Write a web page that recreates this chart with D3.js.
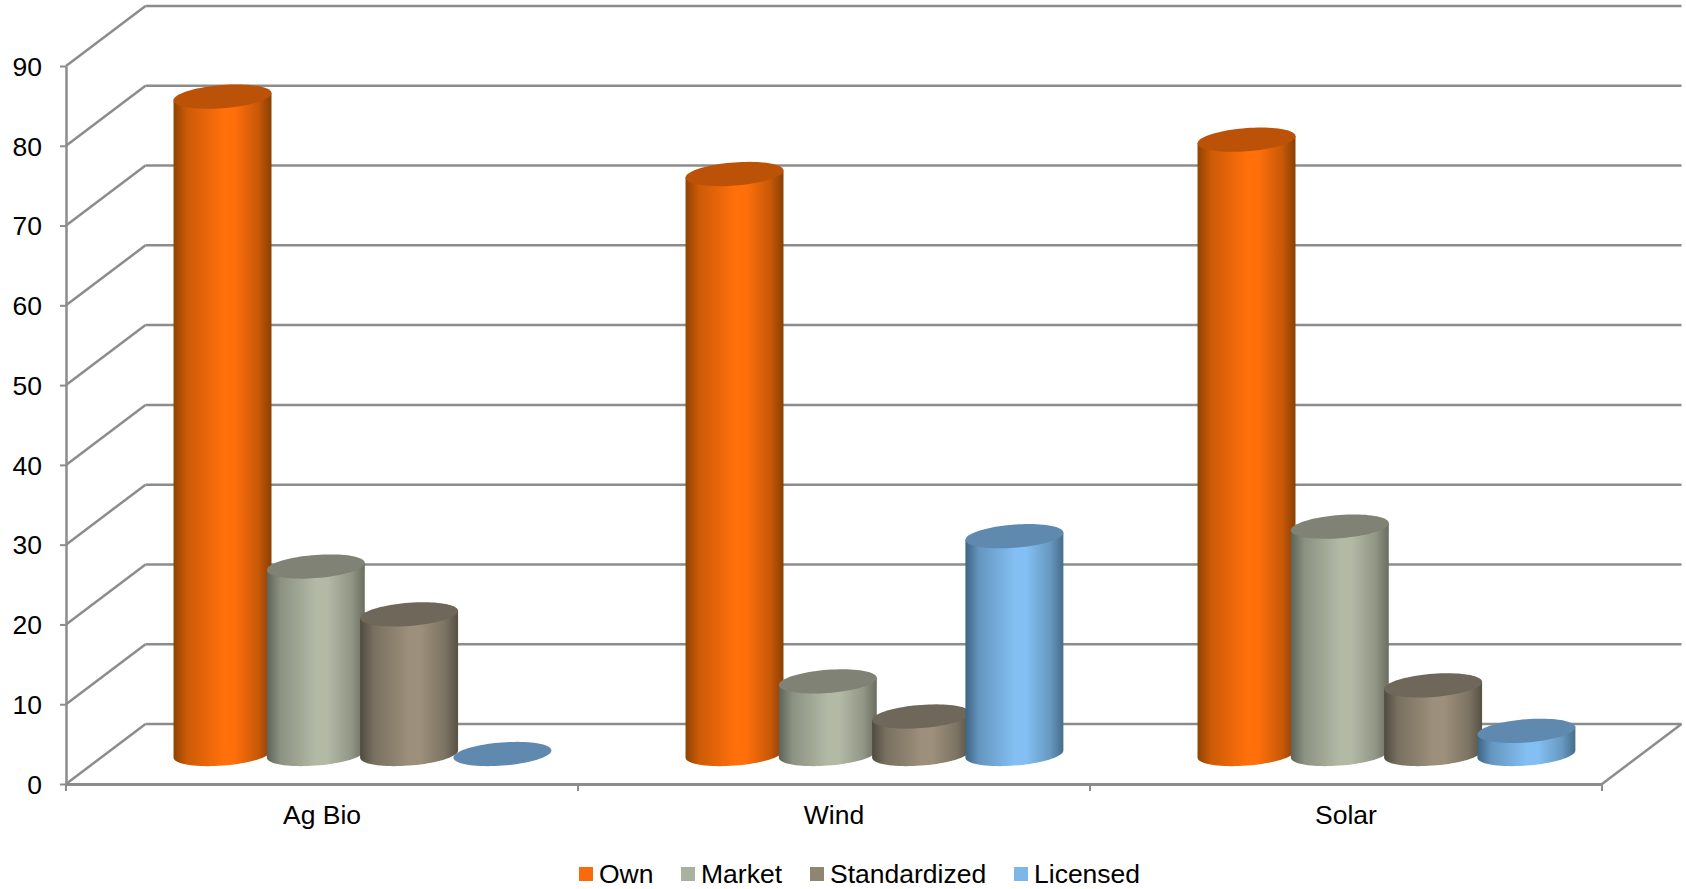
<!DOCTYPE html>
<html>
<head>
<meta charset="utf-8">
<script src="https://cdn.jsdelivr.net/npm/d3@7"></script>
<style>
html,body{margin:0;padding:0;background:#fff;overflow:hidden}
svg{display:block}
text{font-family:"Liberation Sans",Arial,sans-serif;fill:#000}
</style>
</head>
<body>
<svg id="chart" width="1686" height="889"></svg>
<script>
const categories = ["Ag Bio", "Wind", "Solar"];
const seriesNames = ["Own", "Market", "Standardized", "Licensed"];
const own = [82.4, 72.7, 77.0];
const market = [23.5, 9.1, 28.5];
const standardized = [17.5, 4.7, 8.6];
const licensed = [0, 27.3, 2.9];
const yTicks = [0, 10, 20, 30, 40, 50, 60, 70, 80, 90];

const seriesValues = [own, market, standardized, licensed];
const palette = [
  {edgeL:"#8f4304", mid:"#ff6f0a", edgeR:"#8a3f03", top:"#bc5208", key:"#f96a0c"},
  {edgeL:"#5e6358", mid:"#b2b9a5", edgeR:"#6a6e60", top:"#7f8274", key:"#a9b09d"},
  {edgeL:"#4f4a40", mid:"#9c8f7b", edgeR:"#575245", top:"#6f675a", key:"#8f8571"},
  {edgeL:"#3f6482", mid:"#83bff2", edgeR:"#466c8a", top:"#5f89ae", key:"#7cb7e8"}
];

const svg = d3.select("#chart");
const gridColor = "#8c8c8c";
const depthX = 79.5, depthY = -60;
const fontPx = "26.5px";

const y = d3.scaleLinear().domain([0, 90]).range([784, 66]);
const x = d3.scaleBand().domain(categories).range([66, 1602]);
const inner = d3.scaleBand().domain(d3.range(seriesNames.length)).range([0, x.bandwidth()]).paddingInner(0).paddingOuter(0.744);

const grid = svg.append("g").attr("stroke", gridColor).attr("stroke-width", 2.5).attr("fill", "none");
yTicks.forEach(v => {
  grid.append("line").attr("x1", x.range()[0]).attr("y1", y(v)).attr("x2", x.range()[0] + depthX).attr("y2", y(v) + depthY);
  grid.append("line").attr("x1", x.range()[0] + depthX).attr("y1", y(v) + depthY).attr("x2", x.range()[1] + depthX).attr("y2", y(v) + depthY);
});
grid.append("line").attr("x1", x.range()[1]).attr("y1", y(0)).attr("x2", x.range()[1] + depthX).attr("y2", y(0) + depthY);

const axisL = svg.append("g").attr("transform", `translate(${x.range()[0]},0)`)
  .call(d3.axisLeft(y).tickValues(yTicks).tickSize(6).tickPadding(18).tickSizeOuter(0));
axisL.selectAll("text").style("font-size", fontPx).attr("dy", "0.35em");
axisL.selectAll("line").attr("stroke", gridColor).attr("stroke-width", 2);
axisL.select(".domain").attr("stroke", gridColor).attr("stroke-width", 2.5);

const axisB = svg.append("g").attr("transform", `translate(0,${y(0)})`)
  .call(d3.axisBottom(x).tickSize(0).tickPadding(21).tickSizeOuter(0));
axisB.selectAll("text").style("font-size", fontPx);
axisB.select(".domain").attr("stroke", gridColor).attr("stroke-width", 2.8);
const edges = categories.map(c => x(c)).concat([x.range()[1]]);
axisB.selectAll("line.edge").data(edges).join("line").attr("class", "edge")
  .attr("x1", d => d).attr("x2", d => d).attr("y1", 0).attr("y2", 7)
  .attr("stroke", gridColor).attr("stroke-width", 2);

const defs = svg.append("defs");
palette.forEach((p, i) => {
  const g = defs.append("linearGradient").attr("id", "cyl" + i);
  g.append("stop").attr("offset", "0%").attr("stop-color", p.edgeL);
  g.append("stop").attr("offset", "14%").attr("stop-color", d3.interpolateRgb(p.edgeL, p.mid)(0.55));
  g.append("stop").attr("offset", "50%").attr("stop-color", p.mid);
  g.append("stop").attr("offset", "62%").attr("stop-color", p.mid);
  g.append("stop").attr("offset", "86%").attr("stop-color", d3.interpolateRgb(p.mid, p.edgeR)(0.45));
  g.append("stop").attr("offset", "100%").attr("stop-color", p.edgeR);
});

const rx = inner.bandwidth() * 0.525, skew = -3.6, ry = 11.6;
const floorX = depthX / 2 + 0.7, floorY = depthY / 2;
const arcPts = d3.range(0, 41).map(k => Math.PI - k * Math.PI / 40);
const ex = t => rx * Math.cos(t);
const ey = t => skew * Math.cos(t) + ry * Math.sin(t);
const bodyLine = d3.line();
const capLine = d3.line().curve(d3.curveLinearClosed);
const capPts = d3.range(0, 80).map(k => k * Math.PI / 40);

const marks = svg.append("g");
categories.forEach((c, ci) => {
  seriesValues.forEach((vals, si) => {
    const v = vals[ci];
    const cx = x(c) + inner(si) + inner.bandwidth() / 2 + floorX;
    const yb = y(0) + floorY;
    const yt = y(v) + floorY;
    if (v > 0) {
      const pts = [[cx - rx, yt - skew]]
        .concat(arcPts.map(t => [cx + ex(t), yb + ey(t)]))
        .concat([[cx + rx, yt + skew]]);
      marks.append("path").attr("d", bodyLine(pts) + "Z").attr("fill", `url(#cyl${si})`);
    }
    marks.append("path")
      .attr("d", capLine(capPts.map(t => [cx + ex(t), yt + ey(t)])))
      .attr("fill", palette[si].top);
  });
});

const legendX = [579, 681, 810, 1014];
const legend = svg.append("g");
seriesNames.forEach((n, i) => {
  legend.append("rect").attr("x", legendX[i]).attr("y", 867).attr("width", 14).attr("height", 14).attr("fill", palette[i].key);
  legend.append("text").attr("x", legendX[i] + 20).attr("y", 883).style("font-size", fontPx).text(n);
});
</script>
</body>
</html>
